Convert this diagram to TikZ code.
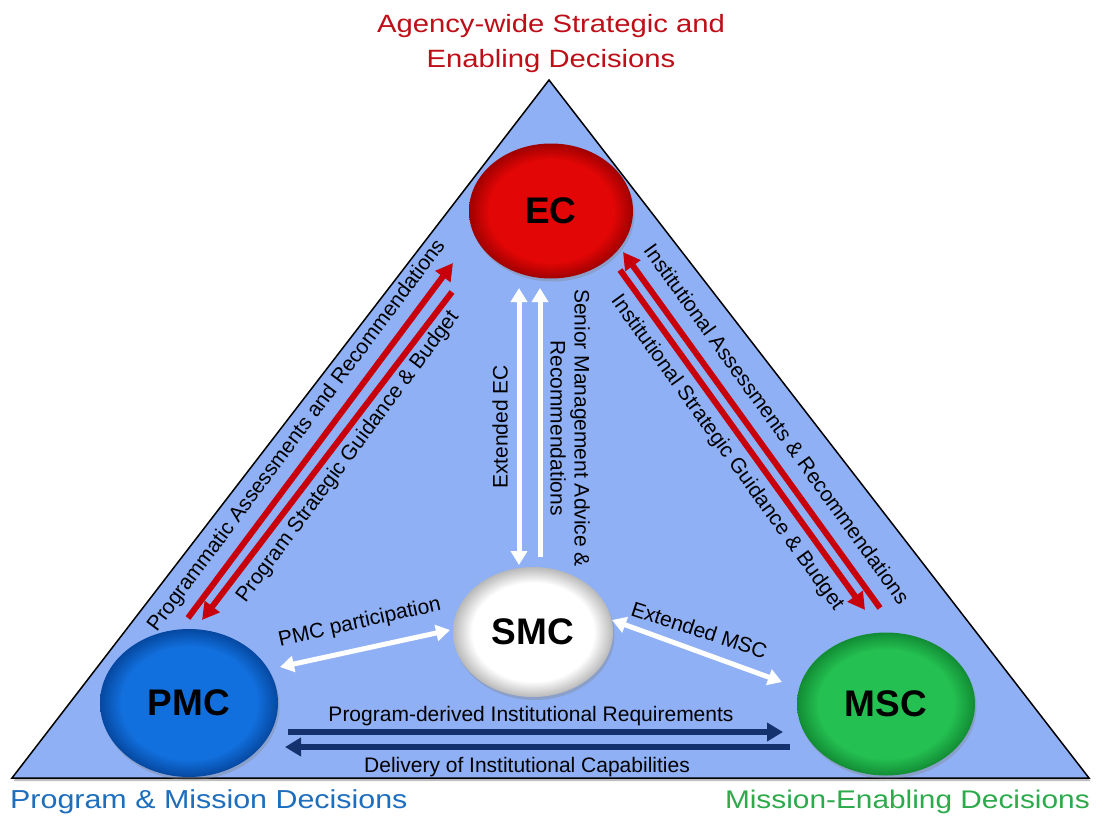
\documentclass[tikz,border=0pt]{standalone}
\usepackage{fontspec}
\setmainfont{Liberation Sans}
\newfontfamily\widefont[FakeStretch=1.17]{Liberation Sans}
\usetikzlibrary{arrows.meta,shapes.geometric,shadows}
\definecolor{trifill}{RGB}{143,176,245}
\definecolor{ecmain}{RGB}{226,6,6}
\definecolor{ecdark}{RGB}{160,0,0}
\definecolor{pmcmain}{RGB}{18,112,222}
\definecolor{pmcdark}{RGB}{5,72,160}
\definecolor{mscmain}{RGB}{36,192,82}
\definecolor{mscdark}{RGB}{18,140,52}
\definecolor{smcmain}{RGB}{255,255,255}
\definecolor{smcdark}{RGB}{185,185,185}
\definecolor{arrred}{RGB}{200,0,12}
\definecolor{navy}{RGB}{20,50,110}
\definecolor{titlered}{RGB}{190,15,25}
\definecolor{titleblue}{RGB}{30,110,190}
\definecolor{titlegreen}{RGB}{45,170,75}
\pgfdeclareradialshading{ecsh}{\pgfpoint{0bp}{0bp}}{color(0bp)=(ecmain); color(19bp)=(ecmain); color(25bp)=(ecdark); color(50bp)=(ecdark)}
\pgfdeclareradialshading{pmcsh}{\pgfpoint{0bp}{0bp}}{color(0bp)=(pmcmain); color(19bp)=(pmcmain); color(25bp)=(pmcdark); color(50bp)=(pmcdark)}
\pgfdeclareradialshading{mscsh}{\pgfpoint{0bp}{0bp}}{color(0bp)=(mscmain); color(19bp)=(mscmain); color(25bp)=(mscdark); color(50bp)=(mscdark)}
\pgfdeclareradialshading{smcsh}{\pgfpoint{0bp}{0bp}}{color(0bp)=(smcmain); color(19bp)=(smcmain); color(25bp)=(smcdark); color(50bp)=(smcdark)}
\begin{document}
\begin{tikzpicture}[x=1pt,y=-1pt,
  lbl/.style={font=\fontsize{21}{24}\selectfont, inner sep=0pt},
  bubble/.style={ellipse, inner sep=0pt, font=\fontsize{37}{40}\selectfont\bfseries,
    drop shadow={shadow xshift=1.5pt, shadow yshift=-3pt, opacity=0.35}},
  redarr/.style={draw=arrred, line width=6pt, -{Triangle[length=17pt,width=18pt]}},
  whitearr/.style={draw=white, line width=5pt, -{Triangle[length=14pt,width=16pt]}},
  whitedbl/.style={draw=white, line width=5pt, {Triangle[length=14pt,width=16pt]}-{Triangle[length=14pt,width=16pt]}},
  navyarr/.style={draw=navy, line width=6pt, -{Triangle[length=16pt,width=18pt]}},
  heading/.style={font=\widefont\fontsize{25}{34}\selectfont, inner sep=0pt}
]
\useasboundingbox (0,0) rectangle (1097,816);
\fill[white] (0,0) rectangle (1097,816);

% triangle
\coordinate (apex) at (549,80);
\coordinate (bl) at (12,778);
\coordinate (br) at (1089,778);
\filldraw[fill=trifill, draw=black, line width=1.5pt,
  drop shadow={shadow xshift=1.5pt, shadow yshift=-3pt, opacity=0.5}]
  (apex) -- (br) -- (bl) -- cycle;

% headings
\node[heading, text=titlered, anchor=base] (t1) at (551,33) {Agency-wide Strategic and};
\node[heading, text=titlered, anchor=base] (t2) at (551,67) {Enabling Decisions};
\node[heading, font=\widefont\fontsize{26}{34}\selectfont, text=titleblue, anchor=base west] (t3) at (10,808) {Program \& Mission Decisions};
\node[heading, font=\widefont\fontsize{25.5}{34}\selectfont, text=titlegreen, anchor=base east] (t4) at (1090,808) {Mission-Enabling Decisions};

% bubbles
\node[bubble, shading=ecsh, minimum width=164pt, minimum height=135pt] (ec) at (551,211) {EC};
\node[bubble, shading=smcsh, minimum width=160pt, minimum height=130pt] (smc) at (533,632) {SMC};
\node[bubble, shading=pmcsh, minimum width=178pt, minimum height=148pt] (pmc) at (189,703) {PMC};
\node[bubble, shading=mscsh, minimum width=178pt, minimum height=143pt] (msc) at (886,704) {MSC};

% left red arrows
\coordinate (lo1) at (188,618);
\coordinate (lo2) at (453,263);
\coordinate (li1) at (452,292);
\coordinate (li2) at (202,620);
\draw[redarr] (lo1) -- (lo2);
\draw[redarr] (li1) -- (li2);
\node[lbl, rotate=53.3] (lotxt) at (297,436) {Programmatic Assessments and Recommendations};
\node[lbl, rotate=53.3] (litxt) at (348,457) {Program Strategic Guidance \& Budget};

% right red arrows
\coordinate (ro1) at (880,608);
\coordinate (ro2) at (623,252);
\coordinate (ri1) at (620,270);
\coordinate (ri2) at (865,610);
\draw[redarr] (ro1) -- (ro2);
\draw[redarr] (ri1) -- (ri2);
\node[lbl, rotate=-54.2] (rotxt) at (777,424) {Institutional Assessments \& Recommendations};
\node[lbl, rotate=-54.2] (ritxt) at (727,453) {Institutional Strategic Guidance \& Budget};

% vertical white arrows
\coordinate (v1a) at (519,288);
\coordinate (v1b) at (519,565);
\coordinate (v2a) at (540,557);
\coordinate (v2b) at (540,288);
\draw[whitedbl] (v1a) -- (v1b);
\draw[whitearr] (v2a) -- (v2b);
\node[lbl, rotate=90] (vtxt1) at (500,427) {Extended EC};
\node[lbl, rotate=-90, align=center] (vtxt2) at (570,428) {Senior Management Advice \&\\Recommendations};

% diagonal white arrows
\coordinate (p1) at (280,667);
\coordinate (p2) at (450,630);
\coordinate (m1) at (612,620);
\coordinate (m2) at (782,682);
\draw[whitedbl] (p1) -- (p2);
\draw[whitedbl] (m1) -- (m2);
\node[lbl, rotate=12.6, anchor=base] (ptxt) at (361,628) {PMC participation};
\node[lbl, rotate=-18, anchor=base] (mtxt) at (697,637) {Extended MSC};

% navy arrows
\coordinate (n1a) at (288,732);
\coordinate (n1b) at (783,732);
\coordinate (n2a) at (790,747);
\coordinate (n2b) at (285,747);
\draw[navyarr] (n1a) -- (n1b);
\draw[navyarr] (n2a) -- (n2b);
\node[lbl, anchor=base] (ntxt1) at (531,721) {Program-derived Institutional Requirements};
\node[lbl, anchor=base] (ntxt2) at (527,772) {Delivery of Institutional Capabilities};
\end{tikzpicture}
\end{document}
